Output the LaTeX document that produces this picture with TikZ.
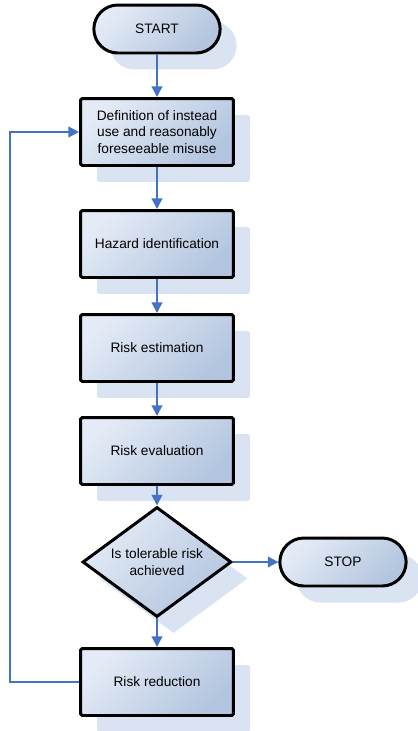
\documentclass[tikz,border=0pt]{standalone}
\usepackage{fontspec}
\setmainfont{Liberation Sans}
\usetikzlibrary{shapes.geometric,shapes.misc,shadows,arrows.meta}
\definecolor{boxlight}{HTML}{E4EBF6}
\definecolor{boxdark}{HTML}{B3C5DF}
\definecolor{shadowblue}{HTML}{DAE3F1}
\definecolor{flowblue}{HTML}{4472C4}
\begin{document}
\begin{tikzpicture}[x=0.02cm, y=-0.02cm,
		font=\fontsize{7.8}{9.6}\selectfont,
		shaded/.style={draw=black, line width=1.7pt, top color=boxlight, bottom color=boxdark,
			shading angle=45,
			drop shadow={shadow xshift=0.33cm, shadow yshift=-0.33cm, fill=shadowblue, opacity=1}},
		stepbox/.style={shaded, rectangle, rounded corners=1pt, minimum width=3.06cm,
			minimum height=1.34cm, align=center},
		terminal/.style={shaded, rounded rectangle, minimum width=2.76cm, minimum height=0.96cm},
		decision/.style={shaded, diamond, aspect=1.35, minimum width=2.98cm,
			minimum height=2.2cm, inner sep=0pt, align=center},
		flow/.style={flowblue, line width=1.1pt, -{Triangle[length=6pt,width=6pt]}}]
	\useasboundingbox (0,0) rectangle (417,731);

	\node [terminal] (start) at (157,29) {START};
	\node [stepbox] (define) at (157,132) {Definition of instead\\use and reasonably\\foreseeable misuse};
	\node [stepbox] (hazard) at (157,244) {Hazard identification};
	\node [stepbox] (estimate) at (157,348) {Risk estimation};
	\node [stepbox] (evaluate) at (157,451) {Risk evaluation};
	\node [decision] (tolerable) at (157,562) {Is tolerable risk\\achieved};
	\node [terminal] (stop) at (343,562) {STOP};
	\node [stepbox] (reduce) at (157,682) {Risk reduction};
	\coordinate (loop) at (10,682);

	\draw [flow] (start) -- (define);
	\draw [flow] (define) -- (hazard);
	\draw [flow] (hazard) -- (estimate);
	\draw [flow] (estimate) -- (evaluate);
	\draw [flow] (evaluate) -- (tolerable);
	\draw [flow] (tolerable) -- (stop);
	\draw [flow] (tolerable) -- (reduce);
	\draw [flow] (reduce.west) -- (loop) |- (define.west);
\end{tikzpicture}
\end{document}
